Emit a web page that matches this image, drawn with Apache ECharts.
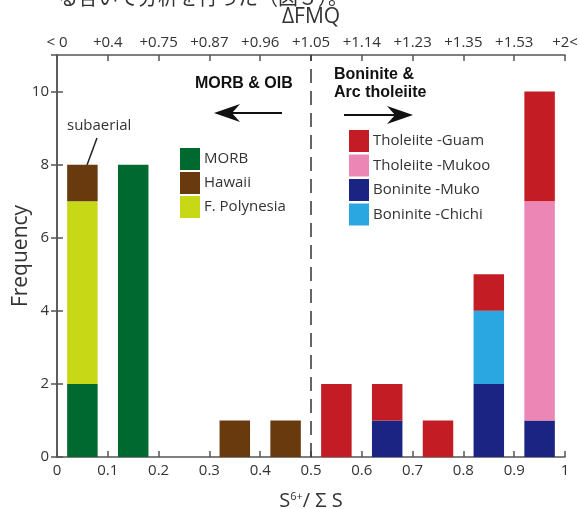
<html lang="ja">
  <head>
    <meta charset="utf-8">
    <title>S6+/ΣS histogram</title>
    <script type="text/javascript" src="https://cdn.jsdelivr.net/npm/echarts@6/dist/echarts.min.js"></script>
    <style>
      body { margin: 0; background: #fff; }
      #chart { width: 580px; height: 509px; }
    </style>
  </head>
  <body>
    <div id="chart"></div>
    <script>
      // bins of S6+/ΣS, 0.1 wide
      var bins = ['0.05', '0.15', '0.25', '0.35', '0.45', '0.55', '0.65', '0.75', '0.85', '0.95'];
      var fmqLabels = ['< 0', '+0.4', '+0.75', '+0.87', '+0.96', '+1.05', '+1.14', '+1.23', '+1.35', '+1.53', '+2<'];

      // counts per bin (stacked bottom -> top)
      var morb          = [2, 8, 0, 0, 0, 0, 0, 0, 0, 0];
      var fPolynesia    = [5, 0, 0, 0, 0, 0, 0, 0, 0, 0];
      var hawaii        = [1, 0, 0, 1, 1, 0, 0, 0, 0, 0];
      var boniniteMuko  = [0, 0, 0, 0, 0, 0, 1, 0, 2, 1];
      var boniniteChichi= [0, 0, 0, 0, 0, 0, 0, 0, 2, 0];
      var tholMukoo     = [0, 0, 0, 0, 0, 0, 0, 0, 0, 6];
      var tholGuam      = [0, 0, 0, 0, 0, 2, 1, 1, 1, 3];

      var font = '"Open Sans", "Noto Sans", sans-serif';
      var axisColor = '#555';

      function bar(name, data, color){
        return {
          name: name,
          type: 'bar',
          stack: 'all',
          xAxisIndex: 0,
          yAxisIndex: 0,
          barWidth: '60%',
          itemStyle: { color: color },
          data: data.map(function(v){ return v === 0 ? '-' : v; })
        };
      }

      var chart = echarts.init(document.getElementById('chart'));
      chart.setOption({
        animation: false,
        grid: { left: 57, right: 15, top: 55, bottom: 52, outerBoundsMode: 'none', containLabel: false },
        legend: [{
          left: 180, top: 148, orient: 'vertical', padding: 0,
          icon: 'rect', itemWidth: 20, itemHeight: 22, itemGap: 2,
          textStyle: { fontSize: 15, color: '#333', fontFamily: font, padding: [0, 0, 0, -1] },
          data: ['MORB', 'Hawaii', 'F. Polynesia']
        }, {
          left: 349, top: 130, orient: 'vertical', padding: 0,
          icon: 'rect', itemWidth: 20, itemHeight: 22, itemGap: 2.5,
          textStyle: { fontSize: 15, color: '#333', fontFamily: font, padding: [0, 0, 0, -1] },
          data: ['Tholeiite -Guam', 'Tholeiite -Mukoo', 'Boninite -Muko', 'Boninite -Chichi']
        }],
        xAxis: [{
          type: 'category', data: bins, show: false
        }, {
          type: 'value', position: 'bottom', min: 0, max: 1, interval: 0.1,
          name: '{a|S}{s|6+}{a|/ Σ S}', nameLocation: 'middle', nameGap: 34,
          nameTextStyle: { rich: {
            a: { fontSize: 20, fontFamily: font, color: '#333' },
            s: { fontSize: 11, fontFamily: font, color: '#333', verticalAlign: 'top', padding: [0, 0, 8, 0] }
          } },
          axisLine: { lineStyle: { color: axisColor, width: 1.5 } },
          axisTick: { inside: true, length: 6, lineStyle: { color: axisColor, width: 1.5 } },
          axisLabel: { fontSize: 15, color: '#333', fontFamily: font, margin: 6 },
          splitLine: { show: false }
        }, {
          type: 'value', position: 'top', min: 0, max: 1, interval: 0.1,
          name: 'ΔFMQ', nameLocation: 'middle', nameGap: 27, nameMoveOverlap: false,
          nameTextStyle: { fontSize: 21, color: '#333', fontFamily: font },
          axisLine: { lineStyle: { color: axisColor, width: 1.5 } },
          axisTick: { inside: true, length: 6, lineStyle: { color: axisColor, width: 1.5 } },
          axisLabel: {
            fontSize: 15, color: '#333', fontFamily: font, margin: 5,
            formatter: function(v){ return fmqLabels[Math.round(v * 10)]; }
          },
          splitLine: { show: false }
        }],
        yAxis: [{
          type: 'value', min: 0, max: 11, interval: 2, position: 'left',
          name: 'Frequency', nameLocation: 'middle', nameGap: 25, nameMoveOverlap: false,
          nameTextStyle: { fontSize: 21, color: '#333', fontFamily: font },
          axisLine: { show: true, lineStyle: { color: axisColor, width: 1.5 } },
          axisTick: { show: true, inside: true, length: 6, lineStyle: { color: axisColor, width: 1.5 } },
          axisLabel: { fontSize: 15, color: '#333', fontFamily: font, margin: 8, showMaxLabel: false },
          splitLine: { show: false }
        }, {
          type: 'value', min: 0, max: 11, interval: 2, position: 'right',
          axisLine: { show: true, lineStyle: { color: axisColor, width: 1.5 } },
          axisTick: { show: true, inside: true, length: 6, lineStyle: { color: axisColor, width: 1.5 } },
          axisLabel: { show: false },
          splitLine: { show: false }
        }],
        series: [
          bar('MORB', morb, '#00692F'),
          bar('F. Polynesia', fPolynesia, '#C6D816'),
          bar('Hawaii', hawaii, '#6A3A0F'),
          bar('Boninite -Muko', boniniteMuko, '#1B2483'),
          bar('Boninite -Chichi', boniniteChichi, '#2AA7E0'),
          bar('Tholeiite -Mukoo', tholMukoo, '#EC86B4'),
          bar('Tholeiite -Guam', tholGuam, '#C41C24'),
          {
            type: 'line', xAxisIndex: 1, yAxisIndex: 0,
            data: [[0.5, 0]], symbol: 'none', lineStyle: { opacity: 0 },
            markLine: {
              silent: true, symbol: 'none', label: { show: false },
              lineStyle: { color: '#333', width: 1.5, type: [14, 8] },
              data: [{ xAxis: 0.5 }]
            }
          }
        ],
        graphic: [
          { type: 'text', left: 58, top: -13,
            style: { text: 'る各いて分析を行った（図５）。', font: '20px "Noto Sans CJK JP"', fill: '#333' } },
          { type: 'text', left: 195, top: 76,
            style: { text: 'MORB & OIB', font: 'bold 16px "Liberation Sans", Arial', fill: '#111' } },
          { type: 'line', shape: { x1: 282, y1: 113, x2: 222, y2: 113 }, style: { stroke: '#111', lineWidth: 2 } },
          { type: 'polygon', shape: { points: [[214, 113], [240, 104], [232, 113], [240, 122]] }, style: { fill: '#111' } },
          { type: 'text', left: 334, top: 66,
            style: { text: 'Boninite &\nArc tholeiite', font: 'bold 16px "Liberation Sans", Arial', lineHeight: 18, fill: '#111' } },
          { type: 'line', shape: { x1: 344, y1: 115, x2: 405, y2: 115 }, style: { stroke: '#111', lineWidth: 2 } },
          { type: 'polygon', shape: { points: [[413, 115], [387, 106], [395, 115], [387, 124]] }, style: { fill: '#111' } },
          { type: 'text', left: 67, top: 118,
            style: { text: 'subaerial', font: '15px "Open Sans", sans-serif', fill: '#333' } },
          { type: 'line', shape: { x1: 97, y1: 138, x2: 87, y2: 165 }, style: { stroke: '#222', lineWidth: 1.5 } }
        ]
      });
    </script>
  </body>
</html>
